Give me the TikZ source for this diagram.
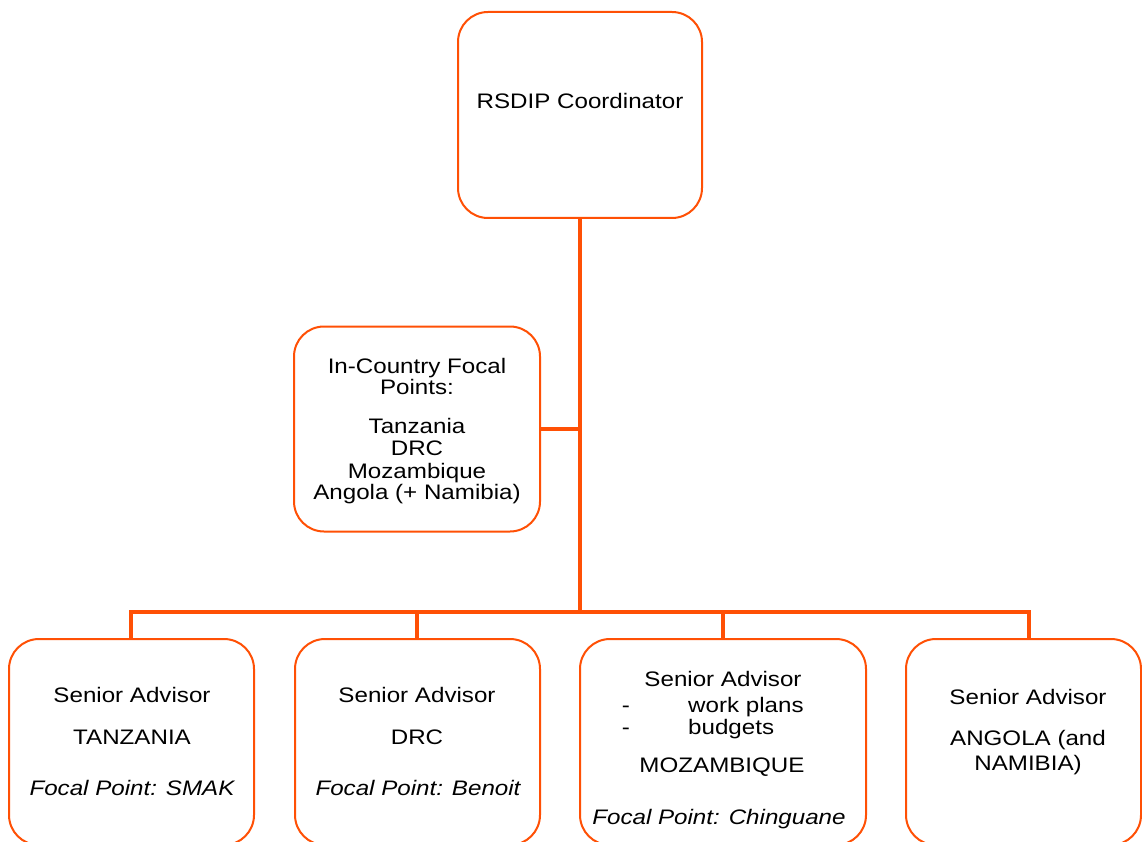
\documentclass[tikz,border=0pt]{standalone}
\usepackage{fontspec}
\setmainfont[FakeStretch=1.15]{Liberation Sans}
\definecolor{orng}{RGB}{255,80,5}
\begin{document}
\begin{tikzpicture}[x=1pt,y=-1pt,
  box/.style={draw=orng, line width=2pt, rounded corners=30pt, fill=white, inner sep=0pt},
  conn/.style={draw=orng, line width=4pt},
  txt/.style={font=\fontsize{21}{22.5}\selectfont, inner sep=0pt, anchor=mid},
  itx/.style={txt, font=\fontsize{21}{22.5}\selectfont\itshape}]
\clip (0,0) rectangle (1142,842);
% boxes
\node[box, minimum width=244pt, minimum height=206pt] (top) at (580,115) {};
\node[box, minimum width=246pt, minimum height=205pt] (mid) at (417,429) {};
\node[box, minimum width=245pt, minimum height=206pt] (s1) at (131.5,742) {};
\node[box, minimum width=245pt, minimum height=206pt] (s2) at (417.5,742) {};
\node[box, minimum width=286pt, minimum height=206pt] (s3) at (723,742) {};
\node[box, minimum width=235pt, minimum height=206pt] (s4) at (1023.5,742) {};
% connector points
\coordinate (bus) at (580,612);
\coordinate (b1) at (131,612);
\coordinate (b2) at (417,612);
\coordinate (b3) at (723,612);
\coordinate (b4) at (1029,612);
% connectors
\draw[conn] (top.south) -- (bus);
\draw[conn] (mid.east) -- (mid.east -| bus);
\draw[conn] (b1 |- s1.north) -- (b1) -- (b4) -- (b4 |- s4.north);
\draw[conn] (b2) -- (b2 |- s2.north);
\draw[conn] (b3) -- (b3 |- s3.north);
% texts
\node[txt] (ttop) at (580,106) {RSDIP Coordinator};
\node[txt] (tm1) at (417,371) {In-Country Focal};
\node[txt] (tm2) at (417,392) {Points:};
\node[txt] (tm3) at (417,431) {Tanzania};
\node[txt] (tm4) at (417,453) {DRC};
\node[txt] (tm5) at (417,476) {Mozambique};
\node[txt] (tm6) at (417,497) {Angola (+ Namibia)};
\node[txt] (a1) at (132,700) {Senior Advisor};
\node[txt] (c1) at (132,742) {TANZANIA};
\node[itx] (f1) at (132,793) {Focal Point: SMAK};
\node[txt] (a2) at (417,700) {Senior Advisor};
\node[txt] (c2) at (417,742) {DRC};
\node[itx] (f2) at (418,793) {Focal Point: Benoit};
\node[txt] (a3) at (723,684) {Senior Advisor};
\node[txt] (d1) at (626,710) {-};
\node[txt, anchor=mid west] (w1) at (688,710) {work plans};
\node[txt] (d2) at (626,732) {-};
\node[txt, anchor=mid west] (w2) at (688,732) {budgets};
\node[txt] (c3) at (722,770) {MOZAMBIQUE};
\node[itx] (f3) at (719,822) {Focal Point: Chinguane};
\node[txt] (a4) at (1028,702) {Senior Advisor};
\node[txt] (c4) at (1028,743) {ANGOLA (and};
\node[txt] (c5) at (1028,768) {NAMIBIA)};
\end{tikzpicture}
\end{document}
